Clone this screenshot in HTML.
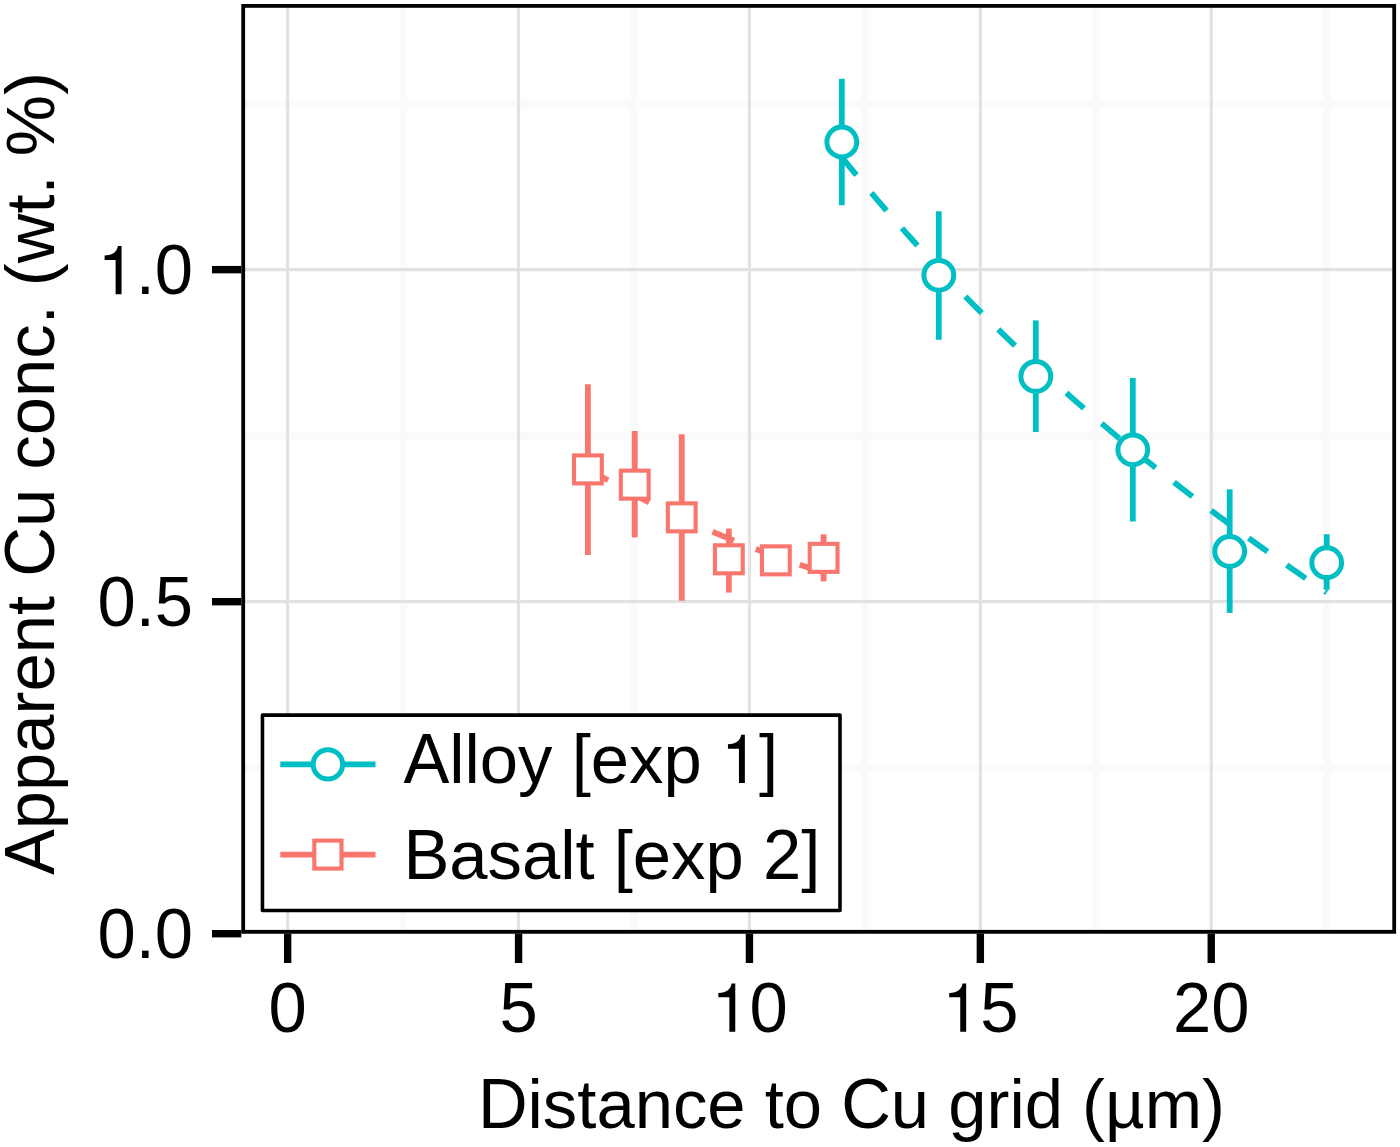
<!DOCTYPE html><html><head><meta charset="utf-8"><title>chart</title><style>html,body{margin:0;padding:0;background:#fff}svg{display:block}text{font-family:"Liberation Sans",sans-serif;font-size:68.8px;fill:#000;font-kerning:none;white-space:pre}</style></head><body>
<svg width="1400" height="1147" viewBox="0 0 1400 1147">
<rect x="0" y="0" width="1400" height="1147" fill="#fff"/>
<defs><clipPath id="pc"><rect x="241.3" y="4.0" width="1154.8" height="929.7"/></clipPath></defs>
<g clip-path="url(#pc)">
<line x1="241.3" x2="1396.1" y1="767.69" y2="767.69" stroke="#fafafa" stroke-width="7.5"/>
<line x1="241.3" x2="1396.1" y1="435.66" y2="435.66" stroke="#fafafa" stroke-width="7.5"/>
<line x1="241.3" x2="1396.1" y1="103.64" y2="103.64" stroke="#fafafa" stroke-width="7.5"/>
<line y1="4.0" y2="933.7" x1="403.10" x2="403.10" stroke="#fafafa" stroke-width="7.5"/>
<line y1="4.0" y2="933.7" x1="634.00" x2="634.00" stroke="#fafafa" stroke-width="7.5"/>
<line y1="4.0" y2="933.7" x1="864.90" x2="864.90" stroke="#fafafa" stroke-width="7.5"/>
<line y1="4.0" y2="933.7" x1="1095.80" x2="1095.80" stroke="#fafafa" stroke-width="7.5"/>
<line y1="4.0" y2="933.7" x1="1326.70" x2="1326.70" stroke="#fafafa" stroke-width="7.5"/>
<line x1="241.3" x2="1396.1" y1="601.68" y2="601.68" stroke="#e2e2e2" stroke-width="3.2"/>
<line x1="241.3" x2="1396.1" y1="269.65" y2="269.65" stroke="#e2e2e2" stroke-width="3.2"/>
<line y1="4.0" y2="933.7" x1="287.65" x2="287.65" stroke="#e2e2e2" stroke-width="3.2"/>
<line y1="4.0" y2="933.7" x1="518.55" x2="518.55" stroke="#e2e2e2" stroke-width="3.2"/>
<line y1="4.0" y2="933.7" x1="749.45" x2="749.45" stroke="#e2e2e2" stroke-width="3.2"/>
<line y1="4.0" y2="933.7" x1="980.35" x2="980.35" stroke="#e2e2e2" stroke-width="3.2"/>
<line y1="4.0" y2="933.7" x1="1211.25" x2="1211.25" stroke="#e2e2e2" stroke-width="3.2"/>
<line x1="587.9" x2="587.9" y1="384.2" y2="554.9" stroke="#F8766D" stroke-width="5.8"/>
<line x1="634.75" x2="634.75" y1="431.0" y2="537.4" stroke="#F8766D" stroke-width="5.8"/>
<line x1="681.75" x2="681.75" y1="434.3" y2="600.65" stroke="#F8766D" stroke-width="5.8"/>
<line x1="728.85" x2="728.85" y1="528.6" y2="592.6" stroke="#F8766D" stroke-width="5.8"/>
<line x1="823.6" x2="823.6" y1="534.3" y2="581.4" stroke="#F8766D" stroke-width="5.8"/>
<line x1="841.8" x2="841.8" y1="78.8" y2="205.2" stroke="#00BFC4" stroke-width="5.8"/>
<line x1="938.8" x2="938.8" y1="211.2" y2="339.8" stroke="#00BFC4" stroke-width="5.8"/>
<line x1="1035.8" x2="1035.8" y1="320.4" y2="432.0" stroke="#00BFC4" stroke-width="5.8"/>
<line x1="1132.8" x2="1132.8" y1="378.0" y2="521.5" stroke="#00BFC4" stroke-width="5.8"/>
<line x1="1229.7" x2="1229.7" y1="489.3" y2="612.9" stroke="#00BFC4" stroke-width="5.8"/>
<line x1="1326.7" x2="1326.7" y1="534.3" y2="589.8" stroke="#00BFC4" stroke-width="5.8"/>
<polyline fill="none" stroke="#F8766D" stroke-width="5.8" stroke-dasharray="23.3 23.3" points="587.90,468.67 591.89,471.04 595.89,473.38 599.88,475.70 603.88,478.00 607.87,480.27 611.87,482.51 615.86,484.74 619.86,486.93 623.85,489.11 627.85,491.26 631.84,493.38 635.84,495.49 639.83,497.57 643.83,499.62 647.82,501.66 651.82,503.67 655.81,505.67 659.81,507.64 663.80,509.59 667.80,511.51 671.79,513.42 675.79,515.31 679.78,517.17 683.78,519.02 687.77,520.85 691.77,522.65 695.76,524.44 699.76,526.21 703.75,527.95 707.75,529.68 711.74,531.39 715.74,533.09 719.73,534.76 723.73,536.42 727.72,538.05 731.72,539.67 735.71,541.28 739.71,542.86 743.70,544.43 747.70,545.98 751.69,547.51 755.69,549.03 759.68,550.53 763.68,552.02 767.67,553.49 771.67,554.94 775.66,556.38 779.66,557.80 783.65,559.21 787.65,560.60 791.64,561.97 795.64,563.33 799.63,564.68 803.63,566.01 807.62,567.33 811.62,568.63 815.61,569.92 819.61,571.20 823.60,572.46"/>
<polyline fill="none" stroke="#00BFC4" stroke-width="5.8" stroke-dasharray="23.3 23.3" points="841.70,157.03 846.60,163.06 851.50,169.05 856.40,174.99 861.30,180.89 866.19,186.75 871.09,192.56 875.99,198.33 880.89,204.06 885.79,209.74 890.69,215.38 895.59,220.98 900.49,226.54 905.39,232.06 910.29,237.54 915.18,242.97 920.08,248.37 924.98,253.73 929.88,259.04 934.78,264.32 939.68,269.56 944.58,274.77 949.48,279.93 954.38,285.06 959.28,290.15 964.17,295.20 969.07,300.22 973.97,305.20 978.87,310.14 983.77,315.05 988.67,319.93 993.57,324.77 998.47,329.57 1003.37,334.35 1008.27,339.09 1013.16,343.79 1018.06,348.46 1022.96,353.10 1027.86,357.71 1032.76,362.29 1037.66,366.84 1042.56,371.35 1047.46,375.84 1052.36,380.29 1057.26,384.71 1062.15,389.11 1067.05,393.47 1071.95,397.81 1076.85,402.12 1081.75,406.40 1086.65,410.65 1091.55,414.88 1096.45,419.07 1101.35,423.25 1106.25,427.39 1111.14,431.51 1116.04,435.61 1120.94,439.67 1125.84,443.72 1130.74,447.74 1135.64,451.73 1140.54,455.71 1145.44,459.65 1150.34,463.58 1155.24,467.48 1160.13,471.36 1165.03,475.22 1169.93,479.06 1174.83,482.88 1179.73,486.67 1184.63,490.45 1189.53,494.20 1194.43,497.94 1199.33,501.65 1204.23,505.35 1209.12,509.03 1214.02,512.69 1218.92,516.33 1223.82,519.95 1228.72,523.56 1233.62,527.15 1238.52,530.72 1243.42,534.28 1248.32,537.82 1253.22,541.35 1258.11,544.86 1263.01,548.36 1267.91,551.84 1272.81,555.31 1277.71,558.76 1282.61,562.20 1287.51,565.63 1292.41,569.05 1297.31,572.45 1302.21,575.84 1307.10,579.22 1312.00,582.59 1316.90,585.95 1321.80,589.30 1326.70,592.64"/>
<rect x="574.00" y="455.40" width="27.8" height="28.0" fill="#fff" stroke="#F8766D" stroke-width="4.1"/>
<rect x="620.85" y="470.65" width="27.8" height="28.0" fill="#fff" stroke="#F8766D" stroke-width="4.1"/>
<rect x="667.85" y="503.35" width="27.8" height="28.0" fill="#fff" stroke="#F8766D" stroke-width="4.1"/>
<rect x="714.95" y="545.30" width="27.8" height="28.0" fill="#fff" stroke="#F8766D" stroke-width="4.1"/>
<rect x="761.95" y="546.35" width="27.8" height="28.0" fill="#fff" stroke="#F8766D" stroke-width="4.1"/>
<rect x="809.70" y="543.85" width="27.8" height="28.0" fill="#fff" stroke="#F8766D" stroke-width="4.1"/>
<circle cx="841.8" cy="142.0" r="14.9" fill="#fff" stroke="#00BFC4" stroke-width="5"/>
<circle cx="938.8" cy="275.3" r="14.9" fill="#fff" stroke="#00BFC4" stroke-width="5"/>
<circle cx="1035.8" cy="376.4" r="14.9" fill="#fff" stroke="#00BFC4" stroke-width="5"/>
<circle cx="1132.8" cy="449.8" r="14.9" fill="#fff" stroke="#00BFC4" stroke-width="5"/>
<circle cx="1229.7" cy="551.4" r="14.9" fill="#fff" stroke="#00BFC4" stroke-width="5"/>
<circle cx="1326.7" cy="562.7" r="14.9" fill="#fff" stroke="#00BFC4" stroke-width="5"/>
<rect x="262.45" y="715.1" width="577.55" height="195.4" fill="#fff" stroke="#000" stroke-width="3.6" stroke-linejoin="round"/>
<line x1="280.3" x2="375.5" y1="764.4" y2="764.4" stroke="#00BFC4" stroke-width="5.6"/>
<circle cx="327.9" cy="764.4" r="14.7" fill="#fff" stroke="#00BFC4" stroke-width="5"/>
<line x1="280.3" x2="375.5" y1="854.6" y2="854.6" stroke="#F8766D" stroke-width="5.6"/>
<rect x="314.3" y="840.6" width="27.2" height="28.0" fill="#fff" stroke="#F8766D" stroke-width="4.1"/>
<g transform="translate(403.40,783.00)"><text transform="translate(0.00,0) scale(1,1.03)">A</text><text transform="translate(45.89,0)">lloy [exp </text><path d="M335.56,0.00 L341.47,0.00 L341.47,-48.30 L337.79,-48.30 C337.00,-42.66 333.22,-39.35 324.55,-38.64 L324.55,-34.37 L335.56,-34.37 Z" fill="#000"/><text transform="translate(355.66,0)">]</text></g>
<g transform="translate(403.40,879.40)"><text transform="translate(0.00,0) scale(1,1.03)">B</text><text transform="translate(45.89,0)">asalt [exp </text><text transform="translate(359.49,0) scale(1,1.025)">2</text><text transform="translate(397.75,0)">]</text></g>
<rect x="241.3" y="4.0" width="1154.8" height="929.7" fill="none" stroke="#000" stroke-width="7.6"/>
</g>
<line x1="287.65" x2="287.65" y1="933.7" y2="963.0" stroke="#000" stroke-width="7.4"/>
<g transform="translate(268.52,1031.70)"><text transform="translate(0.00,0) scale(1,1.025)">0</text></g>
<line x1="518.55" x2="518.55" y1="933.7" y2="963.0" stroke="#000" stroke-width="7.4"/>
<g transform="translate(499.42,1031.70)"><text transform="translate(0.00,0) scale(1,1.025)">5</text></g>
<line x1="749.45" x2="749.45" y1="933.7" y2="963.0" stroke="#000" stroke-width="7.4"/>
<g transform="translate(711.19,1031.70)"><path d="M18.16,0.00 L24.08,0.00 L24.08,-48.30 L20.40,-48.30 C19.61,-42.66 15.82,-39.35 7.16,-38.64 L7.16,-34.37 L18.16,-34.37 Z" fill="#000"/><text transform="translate(38.26,0) scale(1,1.025)">0</text></g>
<line x1="980.35" x2="980.35" y1="933.7" y2="963.0" stroke="#000" stroke-width="7.4"/>
<g transform="translate(942.09,1031.70)"><path d="M18.16,0.00 L24.08,0.00 L24.08,-48.30 L20.40,-48.30 C19.61,-42.66 15.82,-39.35 7.16,-38.64 L7.16,-34.37 L18.16,-34.37 Z" fill="#000"/><text transform="translate(38.26,0) scale(1,1.025)">5</text></g>
<line x1="1211.25" x2="1211.25" y1="933.7" y2="963.0" stroke="#000" stroke-width="7.4"/>
<g transform="translate(1172.99,1031.70)"><text transform="translate(0.00,0) scale(1,1.025)">20</text></g>
<line y1="933.70" y2="933.70" x1="212.0" x2="241.3" stroke="#000" stroke-width="7.4"/>
<g transform="translate(97.46,958.30)"><text transform="translate(0.00,0) scale(1,1.025)">0</text><text transform="translate(38.26,0)">.</text><text transform="translate(57.38,0) scale(1,1.025)">0</text></g>
<line y1="601.68" y2="601.68" x1="212.0" x2="241.3" stroke="#000" stroke-width="7.4"/>
<g transform="translate(97.46,626.28)"><text transform="translate(0.00,0) scale(1,1.025)">0</text><text transform="translate(38.26,0)">.</text><text transform="translate(57.38,0) scale(1,1.025)">5</text></g>
<line y1="269.65" y2="269.65" x1="212.0" x2="241.3" stroke="#000" stroke-width="7.4"/>
<g transform="translate(97.46,294.25)"><path d="M18.16,0.00 L24.08,0.00 L24.08,-48.30 L20.40,-48.30 C19.61,-42.66 15.82,-39.35 7.16,-38.64 L7.16,-34.37 L18.16,-34.37 Z" fill="#000"/><text transform="translate(38.26,0)">.</text><text transform="translate(57.38,0) scale(1,1.025)">0</text></g>
<g transform="translate(477.90,1128.00)"><text transform="translate(0.00,0) scale(1,1.03)">D</text><text transform="translate(49.69,0)">istance to </text><text transform="translate(363.28,0) scale(1,1.03)">C</text><text transform="translate(412.97,0)">u grid (µm)</text></g>
<g transform="translate(54.40,875.10) rotate(-90)"><text transform="translate(0.00,0) scale(1,1.03)">A</text><text transform="translate(45.89,0)">pparent </text><text transform="translate(298.35,0) scale(1,1.03)">C</text><text transform="translate(348.03,0)">u conc. (wt. %)</text></g>
</svg></body></html>
